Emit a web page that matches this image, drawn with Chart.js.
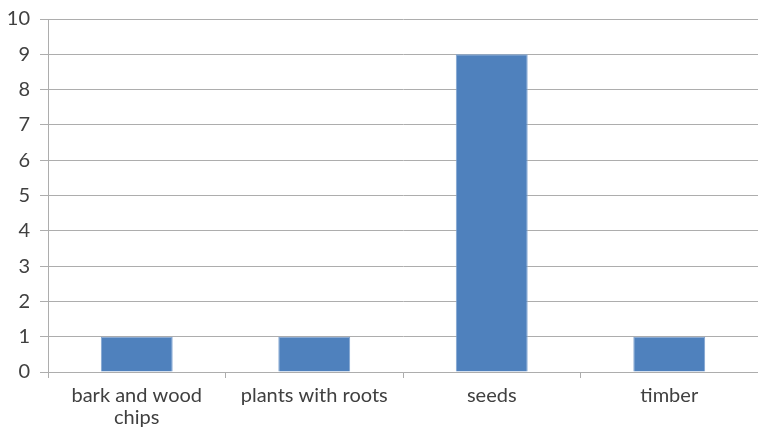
<!DOCTYPE html>
<html>
<head>
<meta charset="utf-8">
<script src="https://cdn.jsdelivr.net/npm/chart.js@4"></script>
<style>
  html, body { margin: 0; padding: 0; background: #fff; }
  #wrap { width: 758px; height: 435px; position: relative; }
</style>
</head>
<body>
<div id="wrap"><canvas id="chart"></canvas></div>
<script>
'use strict';

// Categories and counts.
var categories = [['bark and wood', 'chips'], 'plants with roots', 'seeds', 'timber'];
var counts = [1, 1, 9, 1];
var yTicks = [0, 1, 2, 3, 4, 5, 6, 7, 8, 9, 10];

var textColor = '#404040';
var gridColor = '#adadad';
var fontFamily = 'Lato, "Open Sans", "DejaVu Sans", sans-serif';

var ctx = document.getElementById('chart');

new Chart(ctx, {
  type: 'bar',
  data: {
    labels: categories,
    datasets: [{
      data: counts,
      backgroundColor: '#4F81BD',
      borderColor: '#7FA3D0',
      borderWidth: 1,
      categoryPercentage: 0.81,
      barPercentage: 0.5
    }]
  },
  options: {
    responsive: true,
    maintainAspectRatio: false,
    animation: false,
    layout: { padding: { top: 19, right: 0, left: 0, bottom: 0 } },
    plugins: {
      legend: { display: false },
      tooltip: { enabled: false }
    },
    scales: {
      x: {
        grid: {
          display: true,
          offset: true,
          drawOnChartArea: false,
          drawTicks: true,
          tickLength: 6,
          color: gridColor
        },
        border: { color: gridColor, width: 1 },
        ticks: {
          color: textColor,
          font: { family: fontFamily, size: 20, lineHeight: 1.1 },
          padding: 7,
          maxRotation: 0,
          autoSkip: false
        },
        afterFit: function(scale) { scale.height = 63; }
      },
      y: {
        min: 0,
        max: 10,
        afterBuildTicks: function(scale) {
          scale.ticks = yTicks.map(function(v) { return { value: v }; });
        },
        grid: {
          color: gridColor,
          tickLength: 8
        },
        border: { color: gridColor, width: 1 },
        ticks: {
          color: textColor,
          font: { family: fontFamily, size: 20 },
          padding: 10
        },
        afterFit: function(scale) {
          scale.width = 48;
          // let the layout padding alone decide where the top gridline sits
          scale.paddingTop = 0;
          scale.paddingBottom = 0;
        }
      }
    }
  }
});
</script>
</body>
</html>
